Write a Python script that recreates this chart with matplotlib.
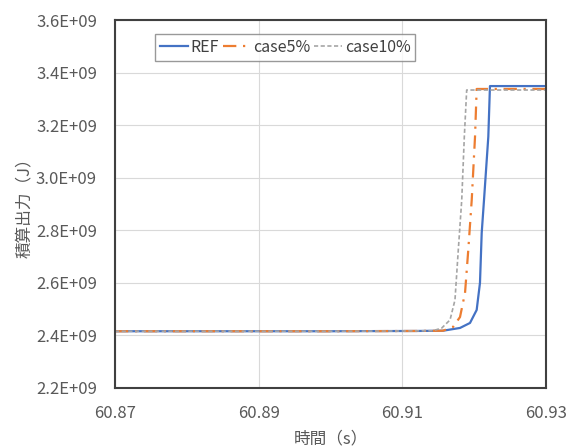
import matplotlib
matplotlib.use("Agg")
import matplotlib.pyplot as plt
import numpy as np

plt.rcParams['font.family'] = ['Noto Sans CJK JP', 'DejaVu Sans']

# データ (時間 s, 積算出力 1e9 J)
t_ref = [60.870, 60.900, 60.912, 60.91566, 60.91803, 60.91942, 60.92035, 60.92081, 60.92105, 60.92137, 60.92197, 60.9222, 60.930]
e_ref = [2.416, 2.416, 2.417, 2.418, 2.4285, 2.4475, 2.497, 2.600, 2.790, 2.915, 3.156, 3.349, 3.349]

t_c5 = [60.870, 60.900, 60.912, 60.91566, 60.91705, 60.91803, 60.91873, 60.91918, 60.91966, 60.92012, 60.92035, 60.930]
e_c5 = [2.416, 2.416, 2.417, 2.418, 2.432, 2.470, 2.562, 2.725, 2.915, 3.156, 3.338, 3.338]

t_c10 = [60.870, 60.900, 60.910, 60.91427, 60.91548, 60.91664, 60.91733, 60.91779, 60.91827, 60.91863, 60.91896, 60.930]
e_c10 = [2.416, 2.416, 2.417, 2.418, 2.428, 2.459, 2.535, 2.725, 2.915, 3.156, 3.334, 3.334]

x_ticks = [60.87, 60.89, 60.91, 60.93]
y_ticks = [2.2, 2.4, 2.6, 2.8, 3.0, 3.2, 3.4, 3.6]

fig = plt.figure(figsize=(5.71, 4.47), dpi=100)
ax = fig.add_axes([0.2014, 0.132, 0.7548, 0.823])

ax.plot(t_ref, np.array(e_ref) * 1e9, color='#4472C4', lw=1.6, label='REF')
ax.plot(t_c5, np.array(e_c5) * 1e9, color='#ED7D31', lw=1.6, ls=(0, (6, 3, 1, 3)), label='case5%')
ax.plot(t_c10, np.array(e_c10) * 1e9, color='#A5A5A5', lw=1.2, ls=(0, (2.5, 1.5)), label='case10%')

ax.set_xlim(60.87, 60.93)
ax.set_ylim(2.2e9, 3.6e9)
ax.set_xticks(x_ticks)
ax.set_xticklabels([f"{v:.2f}" for v in x_ticks])
ax.set_yticks([v * 1e9 for v in y_ticks])
ax.set_yticklabels([f"{v:.1f}E+09" for v in y_ticks])
ax.tick_params(length=0, labelsize=12, colors='#595959')
ax.tick_params(axis='y', pad=13)
ax.tick_params(axis='x', pad=12)

ax.grid(True, color='#D9D9D9', lw=0.8)
for s in ax.spines.values():
    s.set_color('#404040')
    s.set_linewidth(1.5)

ax.set_xlabel('時間（s）', fontsize=12, color='#595959', labelpad=6)
ax.set_ylabel('積算出力（J）', fontsize=12, color='#595959', labelpad=2)

leg = ax.legend(loc='upper left', bbox_to_anchor=(0.093, 0.962), ncol=3, fontsize=11.5,
                frameon=True, fancybox=False, handlelength=1.75, handletextpad=0.15,
                columnspacing=0.25, borderpad=0.3, borderaxespad=0)
leg.get_frame().set_edgecolor('#808080')
leg.get_frame().set_linewidth(1.0)
for txt in leg.get_texts():
    txt.set_color('#404040')

fig.savefig('out.png', dpi=100)
